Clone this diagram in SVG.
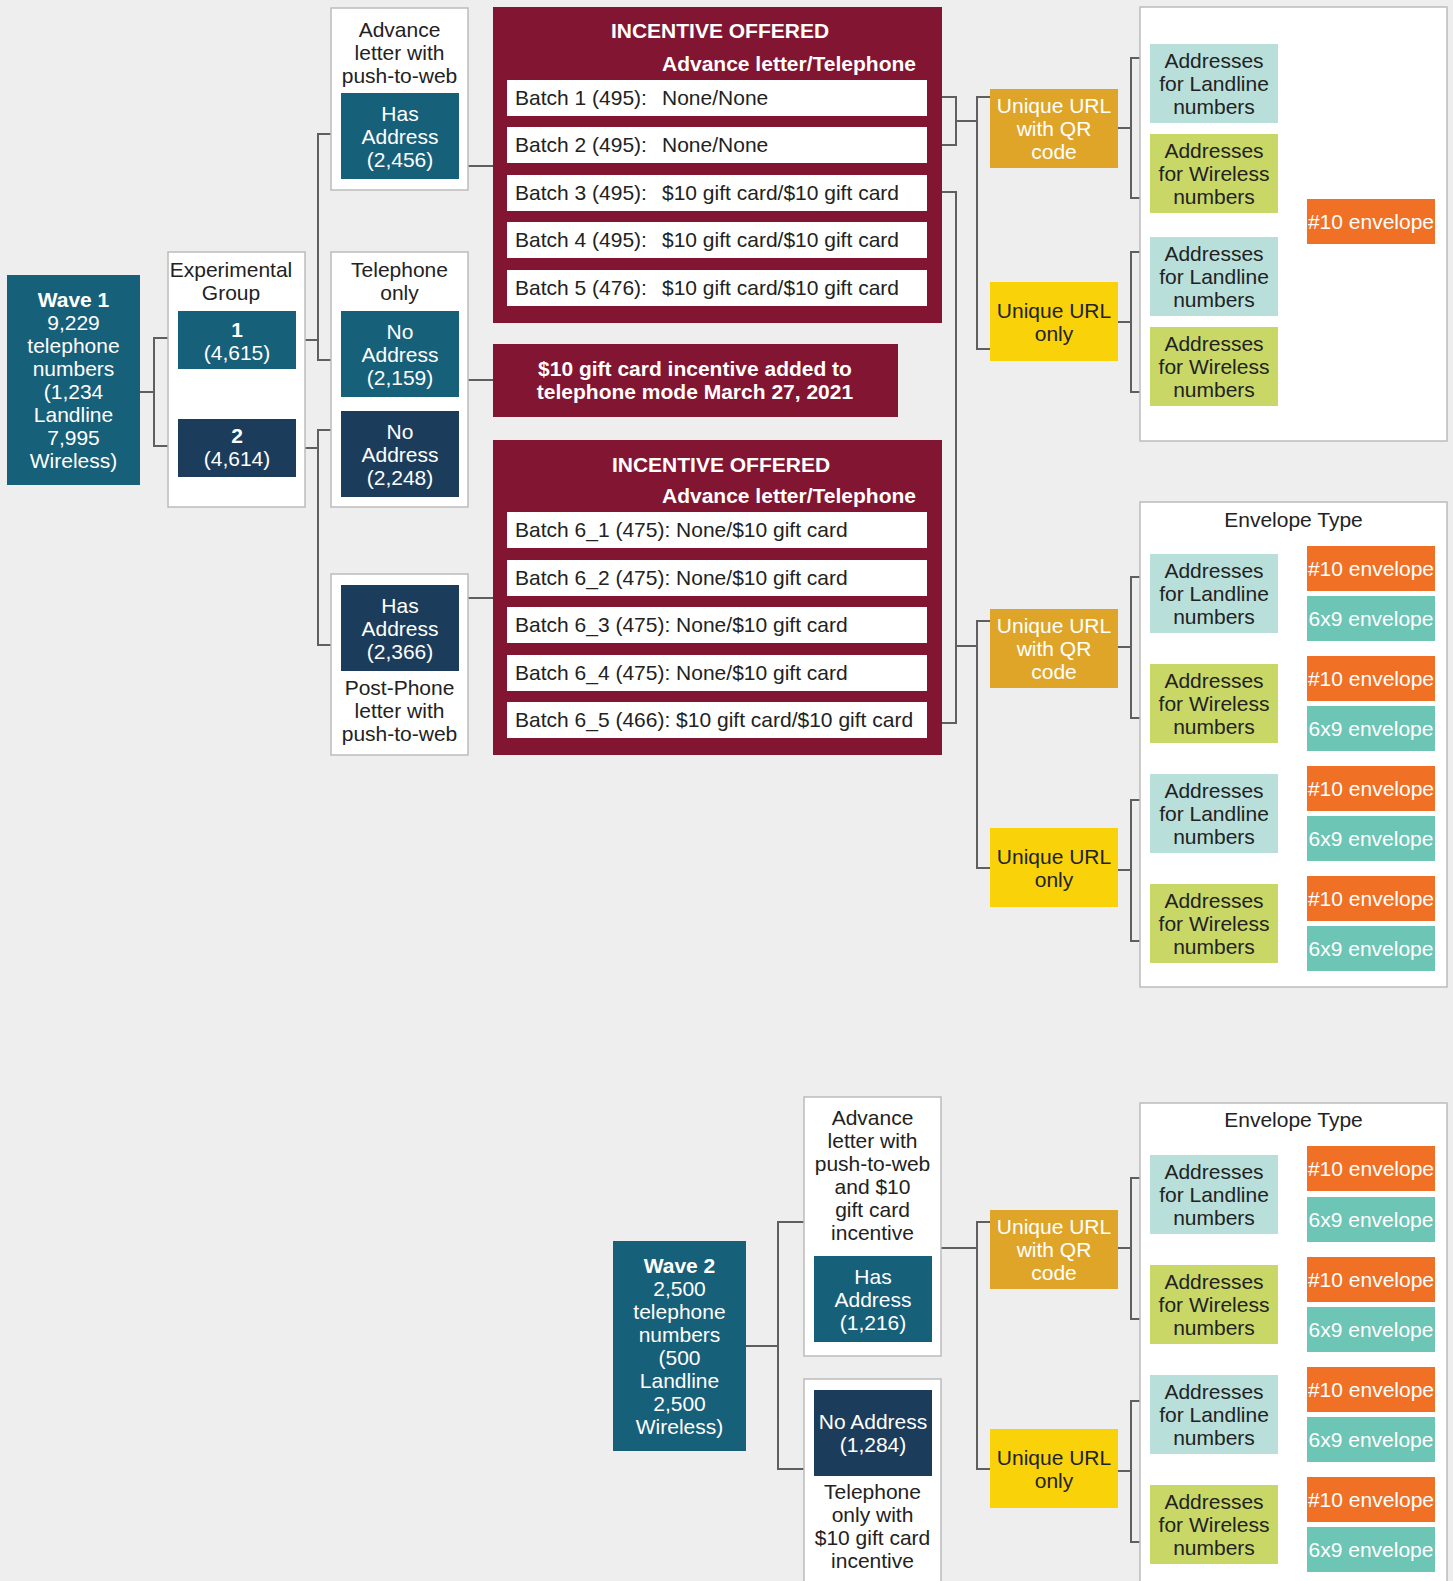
<svg xmlns="http://www.w3.org/2000/svg" width="1453" height="1581" viewBox="0 0 1453 1581">
<style>
.cont{fill:#fff;stroke:#bcbcbc;stroke-width:1.5}
.teal{fill:#17607a}
.navy{fill:#1b3d5b}
.maroon{fill:#821531}
.row{fill:#fff}
.qr{fill:#dfa528}
.yel{fill:#f9d20a}
.land{fill:#b8dfda}
.wire{fill:#c8d766}
.e10{fill:#f07126}
.e69{fill:#6dc5b5}
text{font-family:"Liberation Sans",Arial,sans-serif;font-size:21px;text-anchor:middle}
.w{fill:#fff}
.d{fill:#222}
.b{font-weight:bold}
.l{text-anchor:start}
.conn path{fill:none;stroke:#5f5f5f;stroke-width:2}
</style>
<rect width="1453" height="1581" fill="#eeeeee"/>

<g class="conn" id="connectors">
<path d="M140,392 H154 M178,338 H154 V446 H178"/>
<path d="M296,340 H318 M341,134 H318 V360 H341"/>
<path d="M296,448 H318 M341,430 H318 V645 H341"/>
<path d="M468,166 H493 M468,380 H493 M468,598 H493"/>
<path d="M942,97 H956 V145 H942 M956,121 H977 M990,97 H977 V349 H990"/>
<path d="M942,192 H956 V723 H942 M956,646 H977 M990,621 H977 V868 H990"/>
<path d="M1118,128 H1131 M1150,58 H1131 V198 H1150 M1118,322 H1131 M1150,252 H1131 V392 H1150"/>
<path d="M1118,647 H1131 M1150,577 H1131 V718 H1150 M1118,870 H1131 M1150,800 H1131 V941 H1150"/>
<path d="M746,1346 H778 M804,1222 H778 V1469 H804"/>
<path d="M941,1248 H977 M990,1222 H977 V1469 H990"/>
<path d="M1118,1248 H1131 M1150,1178 H1131 V1319 H1150 M1118,1471 H1131 M1150,1401 H1131 V1542 H1150"/>
</g>

<g id="wave1">
<rect class="teal" x="7" y="275" width="133" height="210"/>
<text class="w" x="73.5"><tspan class="b" x="73.5" y="307">Wave 1</tspan><tspan x="73.5" y="330">9,229</tspan><tspan x="73.5" y="353">telephone</tspan><tspan x="73.5" y="376">numbers</tspan><tspan x="73.5" y="399">(1,234</tspan><tspan x="73.5" y="422">Landline</tspan><tspan x="73.5" y="445">7,995</tspan><tspan x="73.5" y="468">Wireless)</tspan></text>
</g>

<g id="exp-group">
<rect class="cont" x="168" y="252" width="137" height="255"/>
<text class="d"><tspan x="231" y="277">Experimental</tspan><tspan x="231" y="300">Group</tspan></text>
</g>
<g id="group1">
<rect class="teal" x="178" y="311" width="118" height="58"/>
<text class="w"><tspan class="b" x="237" y="337">1</tspan><tspan x="237" y="360">(4,615)</tspan></text>
</g>
<g id="group2">
<rect class="navy" x="178" y="419" width="118" height="58"/>
<text class="w"><tspan class="b" x="237" y="443">2</tspan><tspan x="237" y="466">(4,614)</tspan></text>
</g>

<g id="advance-letter">
<rect class="cont" x="331" y="8" width="137" height="182"/>
<text class="d"><tspan x="399.5" y="37">Advance</tspan><tspan x="399.5" y="60">letter with</tspan><tspan x="399.5" y="83">push-to-web</tspan></text>
</g>
<g id="has-address-2456">
<rect class="teal" x="341" y="93" width="118" height="86"/>
<text class="w"><tspan x="400" y="121">Has</tspan><tspan x="400" y="144">Address</tspan><tspan x="400" y="167">(2,456)</tspan></text>
</g>

<g id="telephone-only">
<rect class="cont" x="331" y="252" width="137" height="255"/>
<text class="d"><tspan x="399.5" y="277">Telephone</tspan><tspan x="399.5" y="300">only</tspan></text>
</g>
<g id="no-address-2159">
<rect class="teal" x="341" y="311" width="118" height="86"/>
<text class="w"><tspan x="400" y="339">No</tspan><tspan x="400" y="362">Address</tspan><tspan x="400" y="385">(2,159)</tspan></text>
</g>
<g id="no-address-2248">
<rect class="navy" x="341" y="411" width="118" height="86"/>
<text class="w"><tspan x="400" y="439">No</tspan><tspan x="400" y="462">Address</tspan><tspan x="400" y="485">(2,248)</tspan></text>
</g>

<g id="post-phone">
<rect class="cont" x="331" y="574" width="137" height="181"/>
<text class="d"><tspan x="399.5" y="695">Post-Phone</tspan><tspan x="399.5" y="718">letter with</tspan><tspan x="399.5" y="741">push-to-web</tspan></text>
</g>
<g id="has-address-2366">
<rect class="navy" x="341" y="585" width="118" height="86"/>
<text class="w"><tspan x="400" y="613">Has</tspan><tspan x="400" y="636">Address</tspan><tspan x="400" y="659">(2,366)</tspan></text>
</g>

<g id="incentive-1">
<rect class="maroon" x="493" y="7" width="449" height="316"/>
<text class="w b" x="720" y="38">INCENTIVE OFFERED</text>
<text class="w b l" x="662" y="71">Advance letter/Telephone</text>
<rect class="row" x="507" y="80" width="420" height="36"/>
<rect class="row" x="507" y="127" width="420" height="36"/>
<rect class="row" x="507" y="175" width="420" height="36"/>
<rect class="row" x="507" y="222" width="420" height="36"/>
<rect class="row" x="507" y="270" width="420" height="36"/>
<text class="d l" y="104.5"><tspan x="515">Batch 1 (495):</tspan><tspan x="662">None/None</tspan></text>
<text class="d l" y="151.5"><tspan x="515">Batch 2 (495):</tspan><tspan x="662">None/None</tspan></text>
<text class="d l" y="199.5"><tspan x="515">Batch 3 (495):</tspan><tspan x="662">$10 gift card/$10 gift card</tspan></text>
<text class="d l" y="246.5"><tspan x="515">Batch 4 (495):</tspan><tspan x="662">$10 gift card/$10 gift card</tspan></text>
<text class="d l" y="294.5"><tspan x="515">Batch 5 (476):</tspan><tspan x="662">$10 gift card/$10 gift card</tspan></text>
</g>

<g id="incentive-added">
<rect class="maroon" x="493" y="344" width="405" height="73"/>
<text class="w b"><tspan x="695" y="376">$10 gift card incentive added to</tspan><tspan x="695" y="399">telephone mode March 27, 2021</tspan></text>
</g>

<g id="incentive-2">
<rect class="maroon" x="493" y="440" width="449" height="315"/>
<text class="w b" x="721" y="472">INCENTIVE OFFERED</text>
<text class="w b l" x="662" y="503">Advance letter/Telephone</text>
<rect class="row" x="507" y="512" width="420" height="36"/>
<rect class="row" x="507" y="560" width="420" height="36"/>
<rect class="row" x="507" y="607" width="420" height="36"/>
<rect class="row" x="507" y="655" width="420" height="36"/>
<rect class="row" x="507" y="702" width="420" height="36"/>
<text class="d l" x="515" y="536.5">Batch 6_1 (475): None/$10 gift card</text>
<text class="d l" x="515" y="584.5">Batch 6_2 (475): None/$10 gift card</text>
<text class="d l" x="515" y="631.5">Batch 6_3 (475): None/$10 gift card</text>
<text class="d l" x="515" y="679.5">Batch 6_4 (475): None/$10 gift card</text>
<text class="d l" x="515" y="726.5">Batch 6_5 (466): $10 gift card/$10 gift card</text>
</g>

<!-- Top right section -->
<g id="qr-1">
<rect class="qr" x="990" y="89" width="128" height="79"/>
<text class="w"><tspan x="1054" y="113">Unique URL</tspan><tspan x="1054" y="136">with QR</tspan><tspan x="1054" y="159">code</tspan></text>
</g>
<g id="url-1">
<rect class="yel" x="990" y="282" width="128" height="79"/>
<text class="d"><tspan x="1054" y="317.5">Unique URL</tspan><tspan x="1054" y="340.5">only</tspan></text>
</g>
<g id="env-container-1">
<rect class="cont" x="1140" y="7" width="307" height="434"/>
</g>
<g id="land-1a">
<rect class="land" x="1150" y="44" width="128" height="79"/>
<text class="d"><tspan x="1214" y="68">Addresses</tspan><tspan x="1214" y="91">for Landline</tspan><tspan x="1214" y="114">numbers</tspan></text>
</g>
<g id="wire-1a">
<rect class="wire" x="1150" y="134" width="128" height="79"/>
<text class="d"><tspan x="1214" y="158">Addresses</tspan><tspan x="1214" y="181">for Wireless</tspan><tspan x="1214" y="204">numbers</tspan></text>
</g>
<g id="land-1b">
<rect class="land" x="1150" y="237" width="128" height="79"/>
<text class="d"><tspan x="1214" y="261">Addresses</tspan><tspan x="1214" y="284">for Landline</tspan><tspan x="1214" y="307">numbers</tspan></text>
</g>
<g id="wire-1b">
<rect class="wire" x="1150" y="327" width="128" height="79"/>
<text class="d"><tspan x="1214" y="351">Addresses</tspan><tspan x="1214" y="374">for Wireless</tspan><tspan x="1214" y="397">numbers</tspan></text>
</g>
<g id="env10-1">
<rect class="e10" x="1307" y="199" width="128" height="45"/>
<text class="w" x="1371" y="229">#10 envelope</text>
</g>

<!-- Middle right section -->
<g id="qr-2">
<rect class="qr" x="990" y="609" width="128" height="79"/>
<text class="w"><tspan x="1054" y="633">Unique URL</tspan><tspan x="1054" y="656">with QR</tspan><tspan x="1054" y="679">code</tspan></text>
</g>
<g id="url-2">
<rect class="yel" x="990" y="828" width="128" height="79"/>
<text class="d"><tspan x="1054" y="863.5">Unique URL</tspan><tspan x="1054" y="886.5">only</tspan></text>
</g>
<g id="env-container-2">
<rect class="cont" x="1140" y="502" width="307" height="485"/>
<text class="d" x="1293.5" y="527">Envelope Type</text>
</g>
<g id="land-2a">
<rect class="land" x="1150" y="554" width="128" height="79"/>
<text class="d"><tspan x="1214" y="578">Addresses</tspan><tspan x="1214" y="601">for Landline</tspan><tspan x="1214" y="624">numbers</tspan></text>
</g>
<g id="wire-2a">
<rect class="wire" x="1150" y="664" width="128" height="79"/>
<text class="d"><tspan x="1214" y="688">Addresses</tspan><tspan x="1214" y="711">for Wireless</tspan><tspan x="1214" y="734">numbers</tspan></text>
</g>
<g id="land-2b">
<rect class="land" x="1150" y="774" width="128" height="79"/>
<text class="d"><tspan x="1214" y="798">Addresses</tspan><tspan x="1214" y="821">for Landline</tspan><tspan x="1214" y="844">numbers</tspan></text>
</g>
<g id="wire-2b">
<rect class="wire" x="1150" y="884" width="128" height="79"/>
<text class="d"><tspan x="1214" y="908">Addresses</tspan><tspan x="1214" y="931">for Wireless</tspan><tspan x="1214" y="954">numbers</tspan></text>
</g>
<g id="env-2-1"><rect class="e10" x="1307" y="546" width="128" height="45"/><text class="w" x="1371" y="576">#10 envelope</text></g>
<g id="env-2-2"><rect class="e69" x="1307" y="596" width="128" height="45"/><text class="w" x="1371" y="626">6x9 envelope</text></g>
<g id="env-2-3"><rect class="e10" x="1307" y="656" width="128" height="45"/><text class="w" x="1371" y="686">#10 envelope</text></g>
<g id="env-2-4"><rect class="e69" x="1307" y="706" width="128" height="45"/><text class="w" x="1371" y="736">6x9 envelope</text></g>
<g id="env-2-5"><rect class="e10" x="1307" y="766" width="128" height="45"/><text class="w" x="1371" y="796">#10 envelope</text></g>
<g id="env-2-6"><rect class="e69" x="1307" y="816" width="128" height="45"/><text class="w" x="1371" y="846">6x9 envelope</text></g>
<g id="env-2-7"><rect class="e10" x="1307" y="876" width="128" height="45"/><text class="w" x="1371" y="906">#10 envelope</text></g>
<g id="env-2-8"><rect class="e69" x="1307" y="926" width="128" height="45"/><text class="w" x="1371" y="956">6x9 envelope</text></g>

<!-- Wave 2 -->
<g id="wave2">
<rect class="teal" x="613" y="1241" width="133" height="210"/>
<text class="w"><tspan class="b" x="679.5" y="1273">Wave 2</tspan><tspan x="679.5" y="1296">2,500</tspan><tspan x="679.5" y="1319">telephone</tspan><tspan x="679.5" y="1342">numbers</tspan><tspan x="679.5" y="1365">(500</tspan><tspan x="679.5" y="1388">Landline</tspan><tspan x="679.5" y="1411">2,500</tspan><tspan x="679.5" y="1434">Wireless)</tspan></text>
</g>
<g id="advance-letter-2">
<rect class="cont" x="804" y="1097" width="137" height="259"/>
<text class="d"><tspan x="872.5" y="1125">Advance</tspan><tspan x="872.5" y="1148">letter with</tspan><tspan x="872.5" y="1171">push-to-web</tspan><tspan x="872.5" y="1194">and $10</tspan><tspan x="872.5" y="1217">gift card</tspan><tspan x="872.5" y="1240">incentive</tspan></text>
</g>
<g id="has-address-1216">
<rect class="teal" x="814" y="1256" width="118" height="86"/>
<text class="w"><tspan x="873" y="1284">Has</tspan><tspan x="873" y="1307">Address</tspan><tspan x="873" y="1330">(1,216)</tspan></text>
</g>
<g id="telephone-only-2">
<rect class="cont" x="804" y="1379" width="137" height="220"/>
<text class="d"><tspan x="872.5" y="1499">Telephone</tspan><tspan x="872.5" y="1522">only with</tspan><tspan x="872.5" y="1545">$10 gift card</tspan><tspan x="872.5" y="1568">incentive</tspan></text>
</g>
<g id="no-address-1284">
<rect class="navy" x="814" y="1390" width="118" height="86"/>
<text class="w"><tspan x="873" y="1429">No Address</tspan><tspan x="873" y="1452">(1,284)</tspan></text>
</g>

<g id="qr-3">
<rect class="qr" x="990" y="1210" width="128" height="79"/>
<text class="w"><tspan x="1054" y="1234">Unique URL</tspan><tspan x="1054" y="1257">with QR</tspan><tspan x="1054" y="1280">code</tspan></text>
</g>
<g id="url-3">
<rect class="yel" x="990" y="1429" width="128" height="79"/>
<text class="d"><tspan x="1054" y="1464.5">Unique URL</tspan><tspan x="1054" y="1487.5">only</tspan></text>
</g>
<g id="env-container-3">
<rect class="cont" x="1140" y="1103" width="307" height="500"/>
<text class="d" x="1293.5" y="1127">Envelope Type</text>
</g>
<g id="land-3a">
<rect class="land" x="1150" y="1155" width="128" height="79"/>
<text class="d"><tspan x="1214" y="1179">Addresses</tspan><tspan x="1214" y="1202">for Landline</tspan><tspan x="1214" y="1225">numbers</tspan></text>
</g>
<g id="wire-3a">
<rect class="wire" x="1150" y="1265" width="128" height="79"/>
<text class="d"><tspan x="1214" y="1289">Addresses</tspan><tspan x="1214" y="1312">for Wireless</tspan><tspan x="1214" y="1335">numbers</tspan></text>
</g>
<g id="land-3b">
<rect class="land" x="1150" y="1375" width="128" height="79"/>
<text class="d"><tspan x="1214" y="1399">Addresses</tspan><tspan x="1214" y="1422">for Landline</tspan><tspan x="1214" y="1445">numbers</tspan></text>
</g>
<g id="wire-3b">
<rect class="wire" x="1150" y="1485" width="128" height="79"/>
<text class="d"><tspan x="1214" y="1509">Addresses</tspan><tspan x="1214" y="1532">for Wireless</tspan><tspan x="1214" y="1555">numbers</tspan></text>
</g>
<g id="env-3-1"><rect class="e10" x="1307" y="1146" width="128" height="45"/><text class="w" x="1371" y="1176">#10 envelope</text></g>
<g id="env-3-2"><rect class="e69" x="1307" y="1197" width="128" height="45"/><text class="w" x="1371" y="1227">6x9 envelope</text></g>
<g id="env-3-3"><rect class="e10" x="1307" y="1257" width="128" height="45"/><text class="w" x="1371" y="1287">#10 envelope</text></g>
<g id="env-3-4"><rect class="e69" x="1307" y="1307" width="128" height="45"/><text class="w" x="1371" y="1337">6x9 envelope</text></g>
<g id="env-3-5"><rect class="e10" x="1307" y="1367" width="128" height="45"/><text class="w" x="1371" y="1397">#10 envelope</text></g>
<g id="env-3-6"><rect class="e69" x="1307" y="1417" width="128" height="45"/><text class="w" x="1371" y="1447">6x9 envelope</text></g>
<g id="env-3-7"><rect class="e10" x="1307" y="1477" width="128" height="45"/><text class="w" x="1371" y="1507">#10 envelope</text></g>
<g id="env-3-8"><rect class="e69" x="1307" y="1527" width="128" height="45"/><text class="w" x="1371" y="1557">6x9 envelope</text></g>
</svg>
